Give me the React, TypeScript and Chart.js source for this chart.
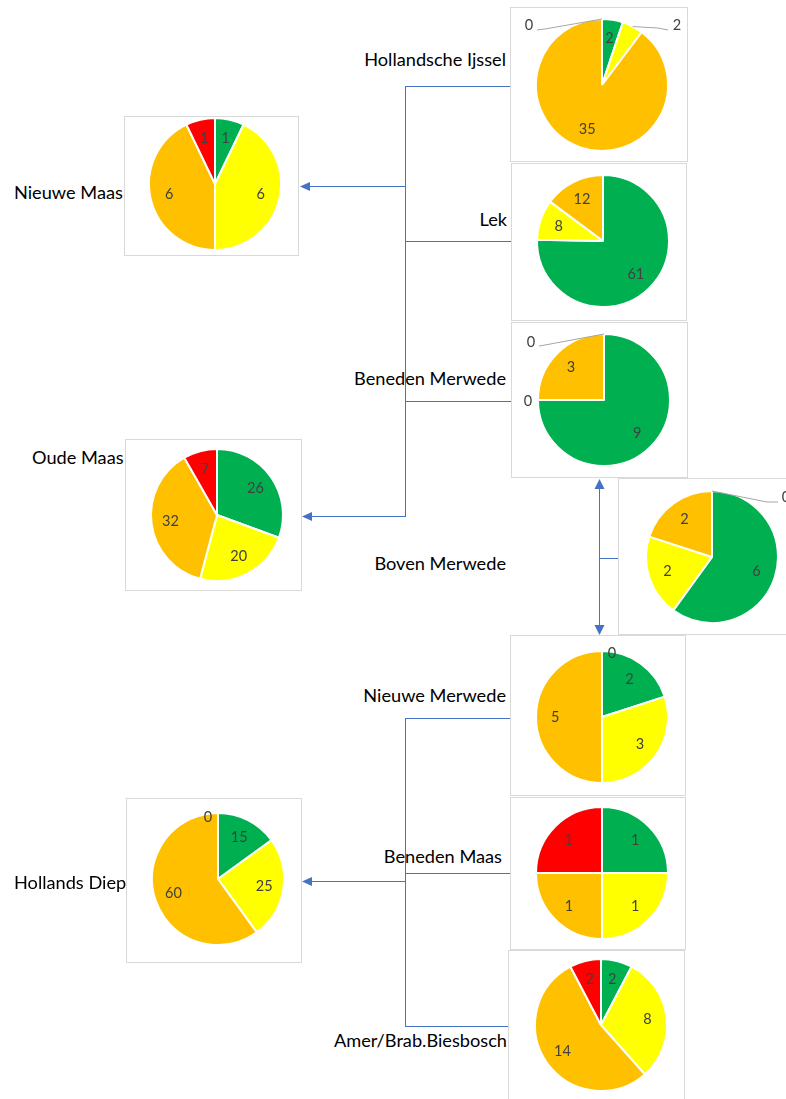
import React, { useEffect, useRef } from "react";
import { Chart, registerables } from "chart.js";

Chart.register(...registerables);

// Status classes of every pie, clockwise from 12 o'clock
const statusClasses = ["goed", "matig", "ontoereikend", "slecht"];
const statusColors = ["#00B050", "#FFFF00", "#FFC000", "#FF0000"];

// Counts per water body, in the order of statusClasses
const hollandscheIjssel = [2, 2, 35, 0];
const lek = [61, 8, 12, 0];
const benedenMerwede = [9, 0, 3, 0];
const bovenMerwede = [6, 2, 2, 0];
const nieuweMerwede = [2, 3, 5, 0];
const benedenMaas = [1, 1, 1, 1];
const amerBiesbosch = [2, 8, 14, 2];
const nieuweMaas = [1, 6, 6, 1];
const oudeMaas = [26, 20, 32, 7];
const hollandsDiep = [15, 25, 60, 0];

const waterNames = [
  "Hollandsche Ijssel",
  "Lek",
  "Beneden Merwede",
  "Boven Merwede",
  "Nieuwe Merwede",
  "Beneden Maas",
  "Amer/Brab.Biesbosch",
  "Nieuwe Maas",
  "Oude Maas",
  "Hollands Diep",
];

const R = 66;
const LABEL_FONT = "14.5px Lato";
const NAME_FONT_SIZE = 18.2;

type Callout = { label: [number, number]; leader?: [number, number][] };
type PieSpec = {
  values: number[];
  box: { x: number; y: number; w: number; h: number };
  cx: number;
  cy: number;
  hidden?: number[];
  callouts?: Record<number, Callout>;
};

const pies: PieSpec[] = [
  {
    values: hollandscheIjssel,
    box: { x: 510, y: 7, w: 178, h: 155 },
    cx: 602,
    cy: 85,
    callouts: {
      1: { label: [75, -60], leader: [[56, -57], [66, -55]] },
      3: { label: [-73, -60], leader: [[-57, -56], [-65, -55]] },
    },
  },
  {
    values: lek,
    box: { x: 511, y: 163, w: 176, h: 158 },
    cx: 603,
    cy: 241,
    hidden: [3],
  },
  {
    values: benedenMerwede,
    box: { x: 511, y: 322, w: 177, h: 156 },
    cx: 604,
    cy: 400,
    callouts: {
      1: { label: [-76, 1] },
      3: { label: [-73, -58], leader: [[-59, -55], [-65, -54]] },
    },
  },
  {
    values: bovenMerwede,
    box: { x: 618, y: 478, w: 180, h: 157 },
    cx: 712,
    cy: 557,
    callouts: {
      3: { label: [74, -60], leader: [[55, -55], [66, -55]] },
    },
  },
  {
    values: nieuweMerwede,
    box: { x: 510, y: 635, w: 176, h: 161 },
    cx: 602,
    cy: 717,
    callouts: { 3: { label: [10, -64] } },
  },
  {
    values: benedenMaas,
    box: { x: 510, y: 797, w: 176, h: 153 },
    cx: 602,
    cy: 873,
  },
  {
    values: amerBiesbosch,
    box: { x: 508, y: 950, w: 177, h: 160 },
    cx: 601,
    cy: 1025,
  },
  {
    values: nieuweMaas,
    box: { x: 124, y: 116, w: 175, h: 140 },
    cx: 215,
    cy: 184,
  },
  {
    values: oudeMaas,
    box: { x: 125, y: 439, w: 177, h: 152 },
    cx: 217,
    cy: 515,
  },
  {
    values: hollandsDiep,
    box: { x: 126, y: 798, w: 176, h: 165 },
    cx: 218,
    cy: 879,
    callouts: { 3: { label: [-10, -62] } },
  },
];

// Name placement: right-aligned names end at `right`, others start at `left`
const namePlacement: { right?: number; left?: number; y: number }[] = [
  { right: 506, y: 59 },
  { right: 507, y: 219 },
  { right: 506, y: 378 },
  { right: 506, y: 563 },
  { right: 506, y: 695 },
  { right: 502, y: 856 },
  { right: 507, y: 1040 },
  { left: 14, y: 192 },
  { left: 32, y: 457 },
  { left: 14, y: 882 },
];

const sliceLabels = {
  id: "sliceLabels",
  afterDatasetsDraw(chart: any, _args: any, opts: any) {
    const { ctx } = chart;
    const meta = chart.getDatasetMeta(0);
    const values = chart.data.datasets[0].data as number[];
    const hidden: number[] = opts.hidden || [];
    const callouts: Record<number, Callout> = opts.callouts || {};
    ctx.save();
    ctx.font = LABEL_FONT;
    ctx.fillStyle = "#404040";
    ctx.textAlign = "center";
    ctx.textBaseline = "middle";
    meta.data.forEach((arc: any, i: number) => {
      if (hidden.includes(i)) return;
      const { x, y, startAngle, endAngle, outerRadius } = arc.getProps(
        ["x", "y", "startAngle", "endAngle", "outerRadius"],
        true
      );
      const mid = (startAngle + endAngle) / 2;
      const co = callouts[i];
      if (co) {
        if (co.leader) {
          ctx.beginPath();
          ctx.strokeStyle = "#A6A6A6";
          ctx.lineWidth = 1;
          ctx.moveTo(x + Math.cos(mid) * outerRadius, y + Math.sin(mid) * outerRadius);
          co.leader.forEach(([dx, dy]) => ctx.lineTo(x + dx, y + dy));
          ctx.stroke();
        }
        ctx.fillText(String(values[i]), x + co.label[0], y + co.label[1]);
      } else {
        const rr = outerRadius * 0.71;
        ctx.fillText(String(values[i]), x + Math.cos(mid) * rr, y + Math.sin(mid) * rr);
      }
    });
    ctx.restore();
  },
};

function PieBox({ spec }: { spec: PieSpec }) {
  const ref = useRef<HTMLCanvasElement>(null);
  const { box, cx, cy } = spec;
  useEffect(() => {
    if (!ref.current) return;
    const side = 2 * R + 2;
    const left = cx - box.x - R - 1;
    const top = cy - box.y - R - 1;
    const chart = new Chart(ref.current, {
      type: "pie",
      data: {
        labels: statusClasses,
        datasets: [
          {
            data: spec.values,
            backgroundColor: statusColors,
            borderColor: "#FFFFFF",
            borderWidth: 2,
            radius: R,
          } as any,
        ],
      },
      options: {
        animation: false,
        responsive: false,
        maintainAspectRatio: false,
        events: [],
        layout: {
          padding: {
            left,
            top,
            right: box.w - left - side,
            bottom: box.h - top - side,
          },
        },
        plugins: {
          legend: { display: false },
          tooltip: { enabled: false },
          sliceLabels: { hidden: spec.hidden, callouts: spec.callouts },
        } as any,
      },
      plugins: [sliceLabels],
    });
    return () => chart.destroy();
  }, [spec]);
  return (
    <div
      style={{
        position: "absolute",
        left: box.x,
        top: box.y,
        width: box.w,
        height: box.h,
        boxSizing: "border-box",
        border: "1px solid #D9D9D9",
        background: "#FFFFFF",
      }}
    >
      <canvas
        ref={ref}
        width={box.w}
        height={box.h}
        style={{ position: "absolute", left: -1, top: -1, width: box.w, height: box.h }}
      />
    </div>
  );
}

function Connectors() {
  const c = "#4472C4";
  const h = (x1: number, x2: number, y: number) => (
    <line x1={x1} x2={x2} y1={y + 0.5} y2={y + 0.5} stroke={c} strokeWidth={1} />
  );
  const v = (x: number, y1: number, y2: number) => (
    <line x1={x + 0.5} x2={x + 0.5} y1={y1} y2={y2} stroke={c} strokeWidth={1} />
  );
  const leftHead = (tipX: number, y: number) => (
    <polygon points={`${tipX},${y + 0.5} ${tipX + 10},${y - 4} ${tipX + 10},${y + 5}`} fill={c} />
  );
  return (
    <svg
      width={786}
      height={1099}
      style={{ position: "absolute", left: 0, top: 0 }}
    >
      {/* upper branch towards Nieuwe Maas and Oude Maas */}
      {h(405, 511, 86)}
      {h(405, 512, 241)}
      {h(405, 512, 401)}
      {v(405, 86, 517)}
      {h(308, 406, 186)}
      {leftHead(300, 186)}
      {h(310, 406, 516)}
      {leftHead(302, 516)}
      {/* Boven Merwede feeding both branches */}
      {v(599, 488, 627)}
      {h(599, 619, 558)}
      <polygon points="599.5,479 594.5,489 604.5,489" fill={c} />
      <polygon points="599.5,635 594.5,625 604.5,625" fill={c} />
      {/* lower branch towards Hollands Diep */}
      {h(405, 511, 718)}
      {h(405, 511, 873)}
      {h(405, 509, 1026)}
      {v(405, 718, 1027)}
      {h(310, 406, 881)}
      {leftHead(302, 881)}
    </svg>
  );
}

export default function App() {
  return (
    <div
      style={{
        position: "fixed",
        left: 0,
        top: 0,
        width: 786,
        height: 1099,
        overflow: "hidden",
        background: "#FFFFFF",
      }}
    >
      <Connectors />
      {pies.map((p, i) => (
        <PieBox key={i} spec={p} />
      ))}
      {waterNames.map((name, i) => {
        const pl = namePlacement[i];
        return (
          <div
            key={name}
            style={{
              position: "absolute",
              top: pl.y - NAME_FONT_SIZE / 2,
              left: pl.left,
              right: pl.right !== undefined ? 786 - pl.right : undefined,
              fontFamily: "Lato",
              fontSize: NAME_FONT_SIZE,
              lineHeight: 1,
              color: "#000000",
              whiteSpace: "nowrap",
              textAlign: pl.right !== undefined ? "right" : "left",
            }}
          >
            {name}
          </div>
        );
      })}
    </div>
  );
}
